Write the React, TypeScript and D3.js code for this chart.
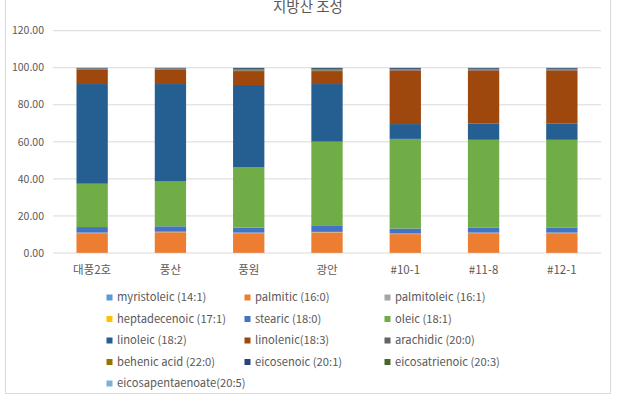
import React from "react";
import * as d3 from "d3";

const categories = ["대풍2호", "풍산", "풍원", "광안", "#10-1", "#11-8", "#12-1"];
const seriesNames = [
  "myristoleic (14:1)",
  "palmitic (16:0)",
  "palmitoleic (16:1)",
  "heptadecenoic (17:1)",
  "stearic (18:0)",
  "oleic (18:1)",
  "linoleic (18:2)",
  "linolenic(18:3)",
  "arachidic (20:0)",
  "behenic acid (22:0)",
  "eicosenoic (20:1)",
  "eicosatrienoic (20:3)",
  "eicosapentaenoate(20:5)",
];
const myristoleic = [0.1, 0.1, 0.1, 0.1, 0.1, 0.1, 0.1];
const palmitic = [10.6, 11.1, 10.6, 11.0, 10.1, 10.6, 10.6];
const palmitoleic = [0.2, 0.2, 0.2, 0.2, 0.2, 0.2, 0.2];
const heptadecenoic = [0.1, 0.1, 0.1, 0.1, 0.1, 0.1, 0.1];
const stearic = [3.0, 2.9, 2.7, 3.2, 2.7, 2.8, 2.8];
const oleic = [23.4, 24.2, 32.7, 45.5, 48.4, 47.3, 47.3];
const linoleic = [53.8, 52.6, 44.3, 31.1, 8.0, 8.7, 8.9];
const linolenic = [7.9, 7.9, 7.5, 7.0, 29.0, 28.8, 28.6];
const arachidic = [0.3, 0.3, 0.4, 0.4, 0.3, 0.3, 0.3];
const behenic = [0.2, 0.2, 0.5, 0.6, 0.3, 0.5, 0.5];
const eicosenoic = [0.3, 0.3, 0.7, 0.6, 0.6, 0.4, 0.4];
const eicosatrienoic = [0.05, 0.05, 0.1, 0.1, 0.1, 0.1, 0.1];
const eicosapentaenoate = [0.05, 0.05, 0.1, 0.1, 0.1, 0.1, 0.1];
const seriesValues = [
  myristoleic, palmitic, palmitoleic, heptadecenoic, stearic, oleic, linoleic,
  linolenic, arachidic, behenic, eicosenoic, eicosatrienoic, eicosapentaenoate,
];
const colors = [
  "#5B9BD5", "#ED7D31", "#A5A5A5", "#FFC000", "#4472C4", "#70AD47", "#255E91",
  "#9E480E", "#636363", "#997300", "#264478", "#43682B", "#7CAFDD",
];
const yTicks = [0, 20, 40, 60, 80, 100, 120];

const W = 621, H = 401;
const FONT = "'Noto Sans CJK KR', 'Noto Sans', sans-serif";

export default function App() {
  const x = d3.scaleBand<string>().domain(categories).range([53, 601]).paddingInner(0.6).paddingOuter(0.3);
  const y = d3.scaleLinear().domain([0, 120]).range([253, 30.7]);

  const table = categories.map((c, i) => {
    const row: Record<string, any> = { cat: c };
    seriesNames.forEach((s, k) => (row[s] = seriesValues[k][i]));
    return row;
  });
  const stacked = d3.stack<any>().keys(seriesNames)(table);

  const legendCols = [109.5, 247.5, 387.5];
  const legendRowY = (r: number) => 297.5 + r * 21.5;

  return (
    <svg width={W} height={H} style={{ position: "absolute", left: 0, top: 0, background: "#fff" }} fontFamily={FONT}>
      <rect x={5.5} y={-10} width={605} height={403.5} fill="#fff" stroke="#d9d9d9" />
      <text x={308} y={12} textAnchor="middle" fontSize={14.5} fill="#595959">지방산 조성</text>
      {yTicks.map((t) => (
        <g key={t}>
          <line x1={53} x2={601} y1={y(t)} y2={y(t)} stroke="#d9d9d9" strokeWidth={1} />
          <text x={44} y={y(t)} dy="0.35em" textAnchor="end" fontSize={10.5} fill="#595959">{t.toFixed(2)}</text>
        </g>
      ))}
      {stacked.map((layer, k) => (
        <g key={layer.key} fill={colors[k]}>
          {layer.map((d, i) => (
            <rect key={i} x={x(categories[i])} width={x.bandwidth()} y={y(d[1])} height={Math.max(0, y(d[0]) - y(d[1]))} />
          ))}
        </g>
      ))}
      {categories.map((c) => (
        <text key={c} x={(x(c) as number) + x.bandwidth() / 2} y={270} dy="0.35em" textAnchor="middle" fontSize={11.5} fill="#595959">{c}</text>
      ))}
      {seriesNames.map((s, k) => {
        const cx = legendCols[k % 3];
        const cy = legendRowY(Math.floor(k / 3));
        return (
          <g key={s}>
            <rect x={cx - 3} y={cy - 3} width={6} height={6} fill={colors[k]} />
            <text x={cx + 7.5} y={cy} dy="0.35em" fontSize={11.2} fill="#595959">{s}</text>
          </g>
        );
      })}
    </svg>
  );
}
